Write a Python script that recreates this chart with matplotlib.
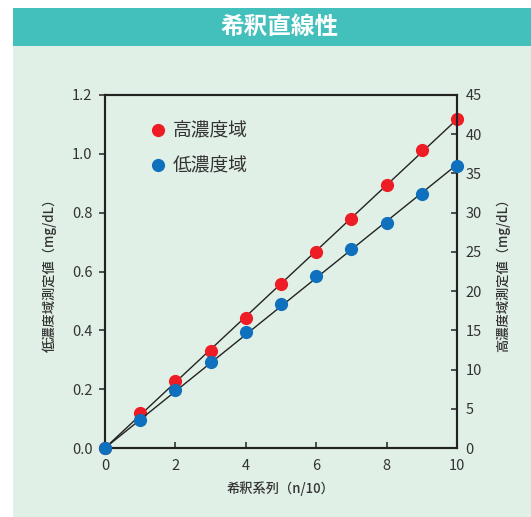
import numpy as np
import matplotlib.pyplot as plt
from matplotlib.lines import Line2D

plt.rcParams['font.family'] = ['Noto Sans CJK JP', 'DejaVu Sans']

# data
dilution = [0, 1, 2, 3, 4, 5, 6, 7, 8, 9, 10]
high_vals = [0, 4.4, 8.5, 12.4, 16.6, 20.9, 25.0, 29.2, 33.5, 38.0, 41.9]   # right axis
low_vals = [0, 0.095, 0.197, 0.291, 0.396, 0.489, 0.585, 0.677, 0.766, 0.862, 0.957]  # left axis
left_ticks = [0.0, 0.2, 0.4, 0.6, 0.8, 1.0, 1.2]
right_ticks = [0, 5, 10, 15, 20, 25, 30, 35, 40, 45]
x_ticks = [0, 2, 4, 6, 8, 10]

txt = '#333333'
red = '#EE1C25'
blue = '#0F70BE'

fig = plt.figure(figsize=(5.31, 5.17), dpi=100)
fig.patch.set_facecolor('white')

# green panel and title band
fig.add_artist(plt.Rectangle((13 / 531, 0), 1, 1 - 46 / 517, transform=fig.transFigure,
                             facecolor='#E1F0E6', edgecolor='none', zorder=0))
fig.add_artist(plt.Rectangle((13 / 531, 1 - 46 / 517), 1, 38 / 517, transform=fig.transFigure,
                             facecolor='#44C0BC', edgecolor='none', zorder=0))
fig.text(280 / 531, 1 - 27 / 517, '希釈直線性', color='white', fontsize=17,
         fontweight='bold', ha='center', va='center')

ax = fig.add_axes([105 / 531, 1 - 448 / 517, 352 / 531, 353 / 517])
ax2 = ax.twinx()
ax2.patch.set_facecolor('white')
ax.set_zorder(ax2.get_zorder() + 1)
ax.patch.set_visible(False)

xs = np.array(dilution, dtype=float)
xl = np.array([0, 10])

# fitted lines through origin
hv = np.array(high_vals)
lv = np.array(low_vals)
kh = (xs * hv).sum() / (xs * xs).sum()
kl = (xs * lv).sum() / (xs * xs).sum()
ax2.plot(xl, kh * xl, color='#222222', lw=1, zorder=2)
ax2.plot(xs, hv, 'o', color=red, ms=9.5, mec='none', zorder=3, clip_on=False)
ax.plot(xl, kl * xl, color='#222222', lw=1, zorder=2)
ax.plot(xs, lv, 'o', color=blue, ms=9.5, mec='none', zorder=3, clip_on=False)

ax.set_xlim(0, 10)
ax.set_ylim(0, 1.2)
ax2.set_ylim(0, 45)
ax.set_xticks(x_ticks)
ax.set_yticks(left_ticks)
ax.set_yticklabels(['%.1f' % v for v in left_ticks])
ax2.set_yticks(right_ticks)

ax.tick_params(axis='x', direction='in', length=4, width=1.2, colors=txt, labelsize=10.5, pad=8)
ax.tick_params(axis='y', direction='out', length=4, width=1.2, colors=txt, labelsize=10.5, pad=5)
ax2.tick_params(axis='y', direction='in', length=4, width=1.2, colors=txt, labelsize=10.5, pad=6)

for a in (ax, ax2):
    for s in a.spines.values():
        s.set_linewidth(1.5)
        s.set_color('#222222')

ax.set_xlabel('希釈系列（n/10）', color=txt, fontsize=9.5, fontweight='medium', labelpad=6)
ax.set_ylabel('低濃度域測定値（mg/dL）', color=txt, fontsize=9.5, fontweight='medium', labelpad=11)
ax2.set_ylabel('高濃度域測定値（mg/dL）', color=txt, fontsize=9.5, fontweight='medium',
               rotation=90, labelpad=10)

handles = [Line2D([], [], marker='o', ls='none', color=red, ms=9.5, mec='none'),
           Line2D([], [], marker='o', ls='none', color=blue, ms=9.5, mec='none')]
leg = ax.legend(handles, ['高濃度域', '低濃度域'], loc='upper left', bbox_to_anchor=(0.07, 0.975),
                frameon=False, fontsize=13.5, handletextpad=0.2, labelspacing=0.75,
                handlelength=1.2)
for t in leg.get_texts():
    t.set_color(txt)

fig.savefig('out.png', dpi=100)
